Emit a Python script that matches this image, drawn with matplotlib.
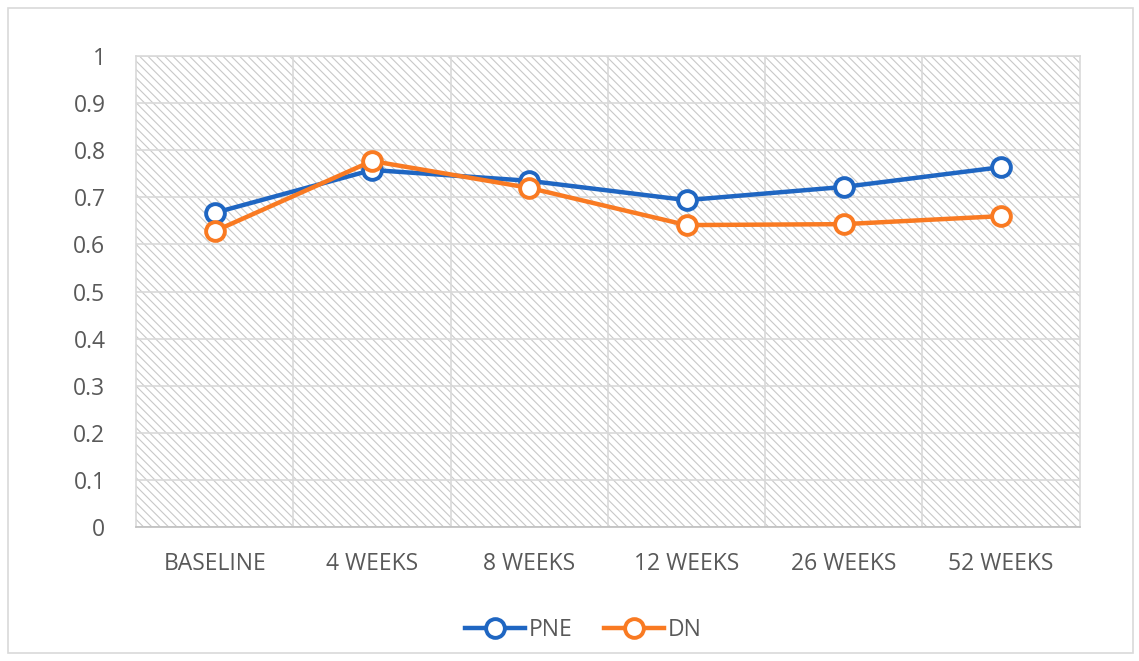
import numpy as np
import matplotlib.pyplot as plt
from matplotlib.patches import Rectangle

# Data
categories = ['BASELINE', '4 WEEKS', '8 WEEKS', '12 WEEKS', '26 WEEKS', '52 WEEKS']
pne = [0.667, 0.758, 0.735, 0.694, 0.722, 0.764]
dn = [0.628, 0.777, 0.720, 0.641, 0.643, 0.660]
yticks = [0, 0.1, 0.2, 0.3, 0.4, 0.5, 0.6, 0.7, 0.8, 0.9, 1]

plt.rcParams['font.family'] = ['Open Sans', 'DejaVu Sans']
plt.rcParams['hatch.linewidth'] = 0.8
text_color = '#595959'
grid_color = '#d9d9d9'

fig = plt.figure(figsize=(11.39, 6.61), dpi=100)
ax = fig.add_axes([0.1194, 0.2027, 0.8286, 0.7126])

# outer chart border
fig.patches.append(Rectangle((0.007, 0.012), 0.988, 0.976, transform=fig.transFigure,
                             fill=False, edgecolor='#d9d9d9', linewidth=1.2))

# hatched plot area
ax.add_patch(Rectangle((0, 0), 1, 1, transform=ax.transAxes, facecolor='white',
                       edgecolor='#c8c8c8', hatch='\\\\\\\\', linewidth=0, zorder=0))

x = np.arange(len(categories))
ax.plot(x, pne, color='#1f66c2', linewidth=3.2, marker='o', markersize=13.5,
        markerfacecolor='white', markeredgewidth=2.8, label='PNE', zorder=3)
ax.plot(x, dn, color='#f97a22', linewidth=3.2, marker='o', markersize=13.5,
        markerfacecolor='white', markeredgewidth=2.8, label='DN', zorder=4)

ax.set_xlim(-0.5, len(categories) - 0.5)
ax.set_ylim(0, 1)
ax.set_yticks(yticks)
ax.set_yticklabels([f'{v:g}' for v in yticks])
ax.set_xticks(x)
ax.set_xticklabels(categories)
ax.set_xticks(np.arange(0.5, len(categories) - 0.5, 1), minor=True)

ax.grid(True, axis='y', which='major', color=grid_color, linewidth=1.2, zorder=1)
ax.grid(True, axis='x', which='minor', color=grid_color, linewidth=1.2, zorder=1)
ax.set_axisbelow(True)
for side in ['top', 'right', 'left']:
    ax.spines[side].set_color(grid_color)
    ax.spines[side].set_linewidth(1.2)
ax.spines['bottom'].set_color('#bfbfbf')
ax.spines['bottom'].set_linewidth(1.2)

ax.tick_params(axis='both', which='both', length=0, labelsize=16.5, colors=text_color)
ax.tick_params(axis='y', pad=22)
ax.tick_params(axis='x', pad=18)

leg = ax.legend(loc='upper center', bbox_to_anchor=(0.474, -0.15), ncol=2, frameon=False,
                fontsize=16.5, handlelength=2.6, columnspacing=1.4, handletextpad=0.15)
for t in leg.get_texts():
    t.set_color(text_color)

fig.savefig('out.png', dpi=100)
